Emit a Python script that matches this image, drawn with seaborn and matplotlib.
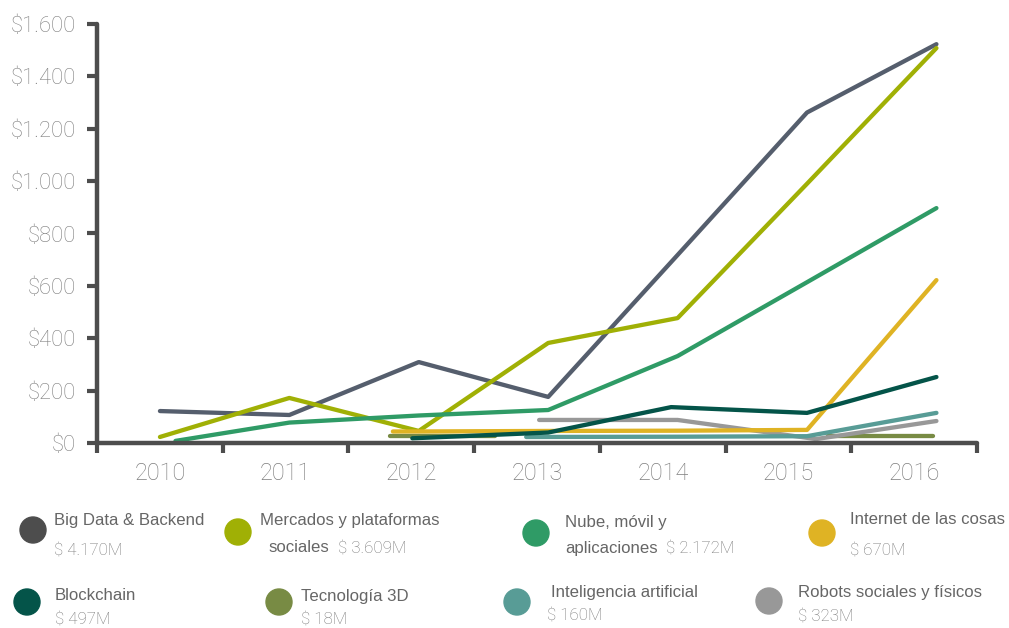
import numpy as np
import pandas as pd
import matplotlib
matplotlib.use("Agg")
import matplotlib.pyplot as plt
from matplotlib.patches import Ellipse
import seaborn as sns

# ---------------- data ----------------
years = [2010, 2011, 2012, 2013, 2014, 2015, 2016]
year_labels = ["2010", "2011", "2012", "2013", "2014", "2015", "2016"]
y_ticks = [0, 200, 400, 600, 800, 1000, 1200, 1400, 1600]
y_tick_labels = ["$0", "$200", "$400", "$600", "$800", "$1.000", "$1.200", "$1.400", "$1.600"]

big_data_x = [2010, 2011, 2012, 2013, 2014, 2015, 2016]
big_data_y = [122, 107, 309, 176, 718, 1262, 1523]

mercados_x = [2010, 2011, 2012, 2013, 2014, 2015, 2016]
mercados_y = [23, 172, 46, 382, 477, 990, 1508]

nube_x = [2010.12, 2011, 2012, 2013, 2014, 2015, 2016]
nube_y = [8, 78, 105, 126, 332, 614, 897]

internet_x = [2011.8, 2012, 2013, 2014, 2015, 2016]
internet_y = [44, 44, 46, 47, 50, 622]

blockchain_x = [2011.95, 2013, 2013.95, 2015, 2016]
blockchain_y = [18, 40, 137, 115, 252]

tec3d_x_a = [2011.78, 2012.59]
tec3d_y_a = [27, 27]
tec3d_x_b = [2015.16, 2015.97]
tec3d_y_b = [27, 27]

ia_x = [2012.83, 2014, 2015, 2016]
ia_y = [23, 24, 26, 115]

robots_x = [2012.93, 2014, 2015.07, 2016]
robots_y = [88, 88, 15, 84]

series_names = ["Big Data & Backend", "Mercados y plataformas sociales",
                "Nube, móvil y aplicaciones", "Internet de las cosas",
                "Blockchain", "Tecnología 3D", "Inteligencia artificial",
                "Robots sociales y físicos"]
series_totals = ["$ 4.170M", "$ 3.609M", "$ 2.172M", "$ 670M",
                 "$ 497M", "$ 18M", "$ 160M", "$ 323M"]

line_colors = ["#555E6D", "#A0B005", "#2F9B66", "#DFB324",
               "#045449", "#788B44", "#589C96", "#989898"]
dot_colors = ["#4D4D4D", "#A0B005", "#2F9B66", "#DFB324",
              "#045449", "#788B44", "#589C96", "#989898"]

# ---------------- long-form table ----------------
rows = []
def add(name, seg, xs, ys):
    for x, y in zip(xs, ys):
        rows.append({"serie": name, "seg": seg, "x": x, "y": y})

add(series_names[0], 0, big_data_x, big_data_y)
add(series_names[1], 0, mercados_x, mercados_y)
add(series_names[2], 0, nube_x, nube_y)
add(series_names[3], 0, internet_x, internet_y)
add(series_names[4], 0, blockchain_x, blockchain_y)
add(series_names[5], 0, tec3d_x_a, tec3d_y_a)
add(series_names[5], 1, tec3d_x_b, tec3d_y_b)
add(series_names[6], 0, ia_x, ia_y)
add(series_names[7], 0, robots_x, robots_y)
df = pd.DataFrame(rows)

# ---------------- figure ----------------
sns.set_theme(style="white")
plt.rcParams["font.family"] = ["Roboto", "DejaVu Sans"]

W, H = 1009, 628
fig = plt.figure(figsize=(W / 100, H / 100), dpi=100)
ax = fig.add_axes([97 / W, 1 - 443 / H, 880 / W, 419 / H])

draw_order = [series_names[i] for i in [0, 1, 2, 5, 7, 6, 3, 4]]
palette = dict(zip(series_names, line_colors))
sns.lineplot(data=df, x="x", y="y", hue="serie", units="seg", estimator=None,
             sort=False, palette=palette, hue_order=draw_order,
             linewidth=3.1, legend=False, ax=ax)

axis_col = "#4D4D4D"
tick_col = "#7E7E7E"

# point spacing vs. label spacing (the category axis is slightly narrower)
step = 125.8 / 129.5
x_left = 2010 + (97 - 160) / 129.5
x_right = 2010 + (977 - 160) / 129.5
ax.set_xlim(x_left, x_right)
ax.set_ylim(0, 1600)

edges = [x_left + k * step for k in range(8)]
centers = [2010 + i * step for i in range(len(years))]
ax.set_xticks(edges)
ax.set_xticklabels([""] * len(edges))
ax.set_xticks(centers, minor=True)
ax.set_xticklabels(year_labels, minor=True)

ax.set_yticks(y_ticks)
ax.set_yticklabels(y_tick_labels)

for s in ["top", "right"]:
    ax.spines[s].set_visible(False)
for s in ["left", "bottom"]:
    ax.spines[s].set_color(axis_col)
    ax.spines[s].set_linewidth(3.2)
    ax.spines[s].set_capstyle("round")

ax.tick_params(axis="x", which="major", direction="out", length=7, width=3,
               color=axis_col, bottom=True)
ax.tick_params(axis="x", which="minor", length=0, pad=14, labelsize=16.8,
               labelcolor=tick_col, bottom=True)
ax.tick_params(axis="y", which="major", direction="out", length=7, width=3,
               color=axis_col, left=True, pad=8, labelsize=15.8,
               labelcolor=tick_col)
for lab in ax.get_xticklabels(minor=True) + ax.get_yticklabels():
    lab.set_fontweight("light")
ax.set_xlabel("")
ax.set_ylabel("")
ax.grid(False)
ax.set_facecolor("white")

# ---------------- custom legend ----------------
def fx(px):
    return px / W

def fy(py):
    return 1 - py / H

name_col = "#666666"
val_col = "#7A7A7A"
name_font = ["Liberation Sans", "DejaVu Sans"]

dots = [(33, 530), (238, 532), (536, 533), (822, 533),
        (27, 602), (279, 602), (517, 602), (769, 601)]
r = 13
for (cx, cy), col in zip(dots, dot_colors):
    fig.patches.append(Ellipse((fx(cx), fy(cy)), 2 * r / W, 2 * r / H,
                               transform=fig.transFigure, color=col,
                               zorder=5))

def name(x, y, s):
    fig.text(fx(x), fy(y), s, ha="left", va="center", fontsize=12.1,
             color=name_col, family=name_font)

def val(x, y, s):
    fig.text(fx(x), fy(y), s, ha="left", va="center", fontsize=12.2,
             color=val_col, fontweight="light")

name(54, 521, series_names[0])
val(54, 551, series_totals[0])

name(260, 521, "Mercados y plataformas")
name(268, 548, "sociales")
val(338, 549, series_totals[1])

name(565, 523, "Nube, móvil y")
name(565, 549, "aplicaciones")
val(666, 549, series_totals[2])

name(850, 520, series_names[3])
val(850, 551, series_totals[3])

name(55, 596, series_names[4])
val(55, 620, series_totals[4])

name(301, 596, series_names[5])
val(301, 620, series_totals[5])

name(551, 592, series_names[6])
val(547, 616, series_totals[6])

name(798, 593, series_names[7])
val(798, 617, series_totals[7])

fig.savefig("out.png", dpi=100, facecolor="white")
